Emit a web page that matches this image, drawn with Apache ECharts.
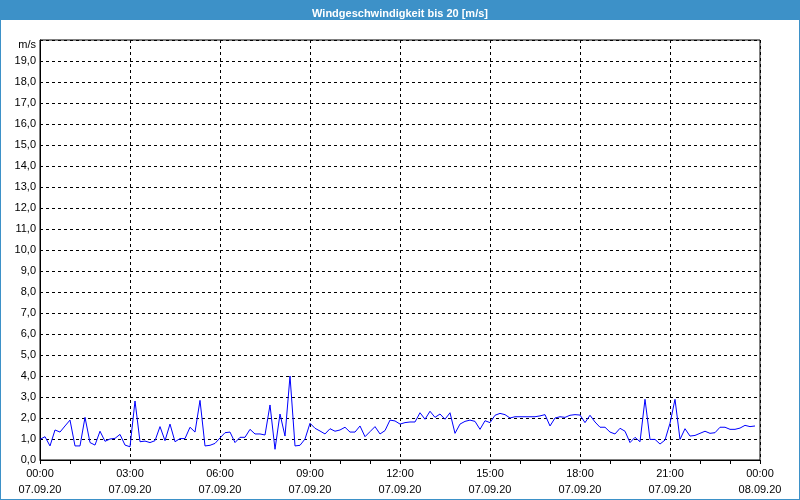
<!DOCTYPE html>
<html>
<head>
<meta charset="utf-8">
<script src="https://cdn.jsdelivr.net/npm/echarts@6/dist/echarts.min.js"></script>
<style>
html,body{margin:0;padding:0;background:#fff;}
#c{width:800px;height:500px;}
</style>
</head>
<body>
<div id="c"></div>
<script>
var titleText = 'Windgeschwindigkeit bis 20 [m/s]';
var unitLabel = 'm/s';
var dayLabels = ['07.09.20', '08.09.20'];
var stepMinutes = 10;
var speeds = [
0.98,1.11,0.67,1.43,1.33,1.62,1.9,0.67,0.67,2.03,0.83,0.71,1.37,0.89,1.0,1.03,1.22,0.71,
0.63,2.81,0.87,0.9,0.83,0.92,1.59,0.92,1.71,0.87,1.02,1.02,1.56,1.33,2.84,0.67,0.7,0.79,
1.05,1.3,1.33,0.83,1.08,1.08,1.46,1.24,1.24,1.19,2.62,0.51,2.19,1.14,4.0,0.67,0.7,1.0,
1.75,1.51,1.38,1.24,1.49,1.37,1.43,1.56,1.33,1.33,1.62,1.11,1.35,1.59,1.24,1.4,1.9,1.86,
1.71,1.78,1.81,1.81,2.25,1.94,2.32,2.03,2.19,1.94,2.25,1.27,1.71,1.84,1.9,1.84,1.46,1.87,
1.78,2.13,2.22,2.16,2.0,2.06,2.06,2.06,2.06,2.06,2.1,2.16,1.62,2.0,2.06,2.03,2.13,2.16,
2.14,1.78,2.13,1.81,1.56,1.56,1.33,1.24,1.51,1.37,0.83,1.08,0.87,2.89,0.98,0.98,0.76,0.95,
1.75,2.89,0.98,1.49,1.14,1.17,1.27,1.37,1.27,1.3,1.56,1.56,1.46,1.46,1.52,1.65,1.59,1.62
];

var seriesData = speeds.map(function (v, i) { return [i * stepMinutes, v]; });

function pad(n){ return (n < 10 ? '0' : '') + n; }

var chart = echarts.init(document.getElementById('c'), null, {renderer:'canvas'});
var font = 'Liberation Sans';
var frameColor = '#3d91c8';
chart.setOption({
  animation: false,
  backgroundColor: '#ffffff',
  graphic: [
    {type:'rect', shape:{x:0, y:0, width:800, height:20}, style:{fill:frameColor}, z:-1, silent:true},
    {type:'line', shape:{x1:0.5, y1:0, x2:0.5, y2:500}, style:{stroke:frameColor, lineWidth:1}, silent:true},
    {type:'line', shape:{x1:799.5, y1:0, x2:799.5, y2:500}, style:{stroke:frameColor, lineWidth:1}, silent:true},
    {type:'line', shape:{x1:0, y1:499.5, x2:800, y2:499.5}, style:{stroke:frameColor, lineWidth:1}, silent:true}
  ],
  title: {
    text: titleText,
    left: 'center',
    top: 3,
    textStyle: {color:'#ffffff', fontSize:11, fontWeight:'bold', fontFamily:font}
  },
  grid: {left:40, right:40, top:40, bottom:40, show:true, borderColor:'#000', borderWidth:1, backgroundColor:'transparent'},
  xAxis: {
    type: 'value',
    min: 0, max: 1440, interval: 180,
    axisLine: {show:true, lineStyle:{color:'#000', width:1}},
    axisTick: {show:true, length:4, lineStyle:{color:'#000'}},
    minorTick: {show:true, splitNumber:3, length:4, lineStyle:{color:'#000'}},
    splitLine: {show:true, lineStyle:{color:'#000', type:[3,3], width:1}},
    axisLabel: {
      color:'#000', fontSize:11, fontFamily:font, lineHeight:16, margin:6,
      formatter: function (v) {
        var d = v >= 1440 ? dayLabels[1] : dayLabels[0];
        var m = v % 1440;
        return pad(Math.floor(m/60)) + ':' + pad(m % 60) + '\n' + d;
      }
    }
  },
  yAxis: {
    type: 'value',
    min: 0, max: 20, interval: 1,
    axisLine: {show:true, lineStyle:{color:'#000', width:1}},
    axisTick: {show:false},
    splitLine: {show:true, lineStyle:{color:'#000', type:[3,3], width:1}},
    axisLabel: {
      color:'#000', fontSize:11, fontFamily:font, margin:4,
      formatter: function (v) {
        if (v >= 20) return '{u|' + unitLabel + '}';
        return v.toFixed(1).replace('.', ',');
      },
      rich: {u:{color:'#000', fontSize:11, fontFamily:font, padding:[10,0,0,0]}}
    }
  },
  series: [{
    type: 'line',
    data: seriesData,
    showSymbol: false,
    symbol: 'none',
    lineStyle: {color:'#0000ff', width:1},
    itemStyle: {color:'#0000ff'}
  }]
});
</script>
</body>
</html>
